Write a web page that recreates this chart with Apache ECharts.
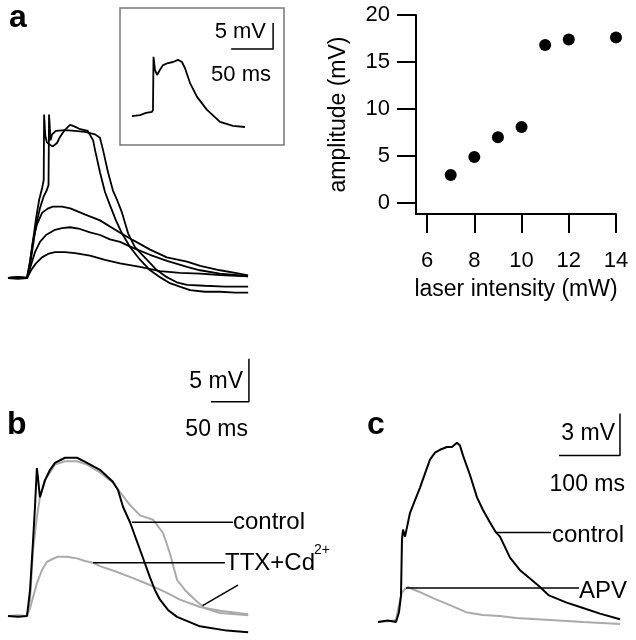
<!DOCTYPE html>
<html>
<head>
<meta charset="utf-8">
<script src="https://cdn.jsdelivr.net/npm/echarts@6/dist/echarts.min.js"></script>
<style>
  html, body { margin: 0; padding: 0; background: #fff; }
  #chart { width: 636px; height: 640px; }
</style>
</head>
<body>
<div id="chart"></div>
<script>
const FONT = '"Liberation Sans", Arial, sans-serif';

// a: 不同激光强度下的五条记录 [ms, mV]
const aTrace1 = [[0, 0], [13, 0.1], [25, 0], [29, 1.9], [33, 4.4], [37, 7.0], [41, 9.1], [45, 10.5], [47, 11.4], [47.5, 19.0], [49, 16.6], [51, 15.8], [55, 15.5], [59, 15.3], [64.5, 15.7], [68.4, 16.4], [73.7, 17.1], [81.6, 17.8], [88, 17.6], [95, 17.3], [105, 17.1], [112, 16.0], [114.5, 14.9], [121, 12.3], [127.6, 10.0], [134, 8.5], [142, 6.7], [150, 5.2], [160.5, 3.6], [174, 2.1], [187, 0.9], [200, 0.1], [213, -0.6], [226, -1.0], [239.5, -1.4], [259, -1.6], [279, -1.6], [299, -1.7], [316, -1.7]];
const aTrace2 = [[0, 0], [13, -0.1], [25, 0], [29, 1.5], [33, 3.8], [37, 6.2], [42, 8.1], [47, 9.5], [51, 10.2], [53.3, 10.8], [54, 19.0], [56, 16.0], [58, 16.7], [63, 17.1], [75, 17.2], [88, 17.1], [101, 17.0], [114.5, 16.7], [121, 16.3], [125, 14.9], [131.6, 12.3], [138, 10.2], [143.4, 9.1], [150, 7.6], [158, 5.2], [167, 3.6], [183, 2.1], [196, 0.9], [209, 0.1], [222, -0.5], [235.5, -0.8], [259, -0.9], [285.5, -1.0], [316, -1.0]];
const aTrace3 = [[0, 0], [13, 0.1], [25, 0], [29, 1.9], [33, 4.4], [38, 6.2], [45, 7.6], [53, 8.1], [59, 8.3], [71, 8.3], [82, 8.1], [101, 7.4], [121, 6.7], [147, 5.3], [164.5, 4.4], [187, 3.3], [209, 2.4], [235.5, 1.9], [253, 1.4], [279, 0.9], [299, 0.6], [316, 0.3]];
const aTrace4 = [[0, 0], [13, 0], [25, 0], [30.3, 1.5], [35.5, 3.0], [42.1, 4.2], [50, 5.0], [61.8, 5.6], [71.1, 5.8], [81.6, 5.9], [94.7, 5.7], [107.9, 5.3], [121.1, 5.0], [134.2, 4.5], [147.4, 4.2], [164.5, 3.5], [186.8, 2.7], [209.2, 2.0], [235.5, 1.3], [252.6, 0.9], [278.9, 0.5], [298.7, 0.35], [315.8, 0.2]];
const aTrace5 = [[0, 0], [13, 0.1], [25, 0], [30.3, 0.9], [36.8, 1.7], [44.7, 2.4], [52.6, 2.8], [61.8, 3.0], [75, 3.0], [88.2, 2.9], [107.9, 2.6], [127.6, 2.1], [147.4, 1.7], [173.7, 1.3], [200, 0.8], [226.3, 0.6], [252.6, 0.5], [278.9, 0.35], [315.8, 0.2]];

// a 插图
const insetTrace = [[0, -0.4], [9.5, -0.2], [16.7, 0.2], [23.8, 0.4], [25, 0.8], [25.6, 11.0], [27.4, 8.5], [29.8, 7.5], [33.3, 8.5], [36.9, 9.4], [42.9, 9.8], [48.8, 10.0], [54.8, 10.4], [59.5, 10.0], [63.1, 8.8], [69, 6.0], [77.4, 3.3], [89.3, 0.8], [104.8, -1.5], [120.2, -2.3], [134.5, -2.5]];

// 散点: 激光强度 (mW) - 幅度 (mV)
const laserIntensity = [7, 8, 9, 10, 11, 12, 14];
const amplitude = [3.0, 4.9, 7.0, 8.1, 16.8, 17.4, 17.6];
const xTicks = [6, 8, 10, 12, 14];
const yTicks = [0, 5, 10, 15, 20];

// b: control 与 TTX+Cd2+
const bControl = [[0, 0], [13, -0.1], [25, 0], [29, 3.0], [33, 8.8], [35.5, 12.7], [38, 17.2], [39.5, 16.0], [42, 13.8], [48.7, 15.8], [55.3, 17.0], [61.8, 17.8], [75, 18.4], [90.8, 18.4], [104, 17.8], [121, 17.0], [138, 15.6], [144.7, 14.65], [151.3, 12.7], [160.5, 10.9], [173.7, 7.7], [186.8, 4.5], [193.4, 3.0], [200, 1.9], [210.5, 0.7], [222.4, -0.1], [252.6, -1.2], [288, -1.7], [316, -1.9]];
const bGrayUpper = [[0, 0], [13, 0.1], [25, 0], [29, 1.9], [33, 7.7], [38, 11.5], [42, 13.8], [48.7, 15.8], [55.3, 16.7], [61.8, 17.6], [75, 18.0], [90.8, 18.0], [104, 17.6], [121, 16.7], [138, 15.5], [147.4, 14.4], [160.5, 12.9], [173.7, 11.7], [190.8, 11.2], [204, 9.65], [213, 7.3], [222.4, 4.2], [233, 3.0], [246, 1.9], [259, 0.9], [279, 0.35], [316, 0.1]];
const bTtxCd = [[0, 0], [13, 0], [25, 0], [29, 0.9], [33, 2.2], [38, 3.8], [44.7, 5.35], [51.3, 6.3], [57.9, 6.6], [65.8, 6.9], [77.6, 6.9], [90.8, 6.7], [101.3, 6.4], [111.8, 6.2], [121, 5.8], [140.8, 5.2], [164.5, 4.4], [186.8, 3.6], [206.6, 2.8], [226.3, 1.9], [252.6, 1.05], [279, 0.6], [316, 0.2]];

// c: control 与 APV
const cControl = [[0, 0], [16, 0.1], [29.5, 0], [34.4, 0.7], [37.7, 1.9], [39.3, 5.9], [41, 6.6], [44.3, 6.1], [52.5, 7.8], [60.7, 8.7], [68.9, 9.6], [77, 10.6], [85.2, 11.6], [93.4, 12.1], [101.6, 12.3], [113.1, 12.5], [121.3, 12.5], [129.5, 12.8], [134.4, 12.6], [139.3, 11.9], [150.8, 10.5], [162.3, 8.9], [172.1, 8.0], [183.6, 7.1], [193.4, 6.4], [200, 6.1], [216.4, 4.6], [232.8, 3.7], [249.2, 3.1], [265.6, 2.5], [280.3, 1.9], [308.2, 1.4], [336.1, 1.0], [363.9, 0.6], [396.7, 0.2]];
const cApv = [[0, 0], [19.7, 0.07], [29.5, 0.14], [34.4, 1.2], [39.3, 2.1], [44.3, 2.36], [49.2, 2.5], [55.7, 2.36], [68.9, 2.14], [90.2, 1.7], [118, 1.2], [144.3, 0.7], [172.1, 0.5], [200, 0.43], [226.2, 0.29], [282, 0.14], [336.1, 0], [396.7, -0.14]];

// 引线 [ms, mV]
const leadBControl = [[163, 10.9], [296, 10.9]];
const leadBTtx = [[111.8, 6.2], [285.5, 6.2]];
const leadBTtx2 = [[302.6, 3.6], [256, 1.2]];
const leadCControl = [[193.4, 6.4], [283.6, 6.4]];
const leadCApv = [[45.9, 2.43], [329.5, 2.43]];

// 标尺 (竖线顶端在 v + mV)
const barInset = { t: 168, v: 12.5, ms: 50, mV: 5 };
const barB = { t: 317, v: 24.9, ms: 50, mV: 5 };
const barC = { t: 396.7, v: 11.9, ms: 100, mV: 3 };

const scaleBar = b => [[b.t, b.v + b.mV], [b.t, b.v], [b.t - b.ms, b.v]];

const BLACK = '#000';
const GRAY = '#aaaaaa';

function trace(data, idx, color, width) {
  return {
    type: 'line', xAxisIndex: idx, yAxisIndex: idx, data,
    showSymbol: false, silent: true, animation: false,
    lineStyle: { color: color || BLACK, width: width || 1.8 },
  };
}

function hiddenAxis(idx, min, max) {
  return { type: 'value', gridIndex: idx, min, max, show: false };
}

function txt(text, x, y, size, opt) {
  return {
    type: 'text', x, y, silent: true,
    style: Object.assign({ text, fill: '#000', font: `${size}px ${FONT}`, verticalAlign: 'middle', align: 'left' }, opt || {}),
  };
}

const chart = echarts.init(document.getElementById('chart'));
const axisStyle = { color: '#000', width: 2 };

chart.setOption({
  backgroundColor: '#fff',
  animation: false,
  grid: [
    { left: 8, top: 101.7, width: 243.2, height: 197.8 }, // a 主图
    { left: 132, top: 20.4, width: 142.8, height: 109.2 }, // a 插图
    { left: 416, top: 15, width: 200, height: 199 }, // 散点
    { left: 8, top: 353.7, width: 243.2, height: 283.8 }, // b
    { left: 378, top: 405, width: 244, height: 231 }, // c
  ],
  xAxis: [
    hiddenAxis(0, 0, 320),
    hiddenAxis(1, 0, 170),
    {
      type: 'value', gridIndex: 2, min: 5.53, max: 14,
      axisLine: { show: true, onZero: false, lineStyle: axisStyle },
      axisTick: { show: true, length: 19, customValues: xTicks, lineStyle: axisStyle },
      axisLabel: { customValues: xTicks, margin: 36, fontSize: 22, color: '#000', fontFamily: FONT },
      splitLine: { show: false },
      name: 'laser intensity (mW)', nameLocation: 'middle', nameGap: 64,
      nameTextStyle: { fontSize: 23, color: '#000', fontFamily: FONT },
    },
    hiddenAxis(3, 0, 320),
    hiddenAxis(4, 0, 400),
  ],
  yAxis: [
    hiddenAxis(0, -2.5, 20.5),
    hiddenAxis(1, -3, 18),
    {
      type: 'value', gridIndex: 2, min: -1.15, max: 20,
      axisLine: { show: true, onZero: false, lineStyle: axisStyle },
      axisTick: { show: true, length: 19, customValues: yTicks, lineStyle: axisStyle },
      axisLabel: { customValues: yTicks, margin: 26, fontSize: 22, color: '#000', fontFamily: FONT },
      splitLine: { show: false },
      name: 'amplitude (mV)', nameLocation: 'middle', nameGap: 66,
      nameTextStyle: { fontSize: 23, color: '#000', fontFamily: FONT },
    },
    hiddenAxis(3, -2.5, 30.5),
    hiddenAxis(4, -1, 15.5),
  ],
  series: [
    trace(aTrace5, 0), trace(aTrace4, 0), trace(aTrace3, 0), trace(aTrace2, 0), trace(aTrace1, 0),
    trace(insetTrace, 1),
    trace(scaleBar(barInset), 1, BLACK, 1.5),
    {
      type: 'scatter', xAxisIndex: 2, yAxisIndex: 2, silent: true, animation: false,
      data: laserIntensity.map((x, i) => [x, amplitude[i]]),
      symbolSize: 12, itemStyle: { color: '#000', opacity: 1 },
    },
    trace(bGrayUpper, 3, GRAY, 2), trace(bTtxCd, 3, GRAY, 2), trace(bControl, 3, BLACK, 2),
    trace(leadBControl, 3, BLACK, 1.5), trace(leadBTtx, 3, BLACK, 1.5), trace(leadBTtx2, 3, BLACK, 1.5),
    trace(scaleBar(barB), 3, BLACK, 1.5),
    trace(cApv, 4, GRAY, 2), trace(cControl, 4, BLACK, 2),
    trace(leadCControl, 4, BLACK, 1.5), trace(leadCApv, 4, BLACK, 1.5),
    trace(scaleBar(barC), 4, BLACK, 1.5),
  ],
  graphic: [
    { type: 'rect', silent: true, shape: { x: 120, y: 8, width: 164, height: 137 }, style: { fill: 'none', stroke: '#777', lineWidth: 1.5 } },
    txt('a', 9, 18, 32, { font: `bold 32px ${FONT}` }),
    txt('b', 7, 425, 32, { font: `bold 32px ${FONT}` }),
    txt('c', 367, 425, 32, { font: `bold 32px ${FONT}` }),
    txt('5 mV', 266, 32, 22, { align: 'right' }),
    txt('50 ms', 271, 75, 22, { align: 'right' }),
    txt('5 mV', 243, 382, 23, { align: 'right' }),
    txt('50 ms', 248, 430, 23, { align: 'right' }),
    txt('3 mV', 615, 434, 23, { align: 'right' }),
    txt('100 ms', 625, 485, 23, { align: 'right' }),
    txt('control', 233, 522, 24),
    txt('TTX+Cd', 225, 563, 24),
    txt('2+', 314, 550, 14),
    txt('control', 552, 535, 24),
    txt('APV', 579, 591, 24),
  ],
});
</script>
</body>
</html>
